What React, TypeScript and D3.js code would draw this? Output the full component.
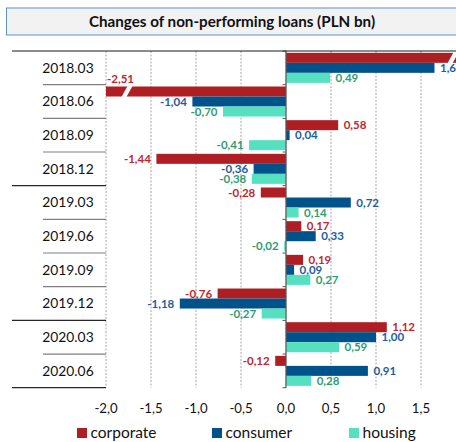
import React from 'react';
import * as d3 from 'd3';

const categories = ['2018.03', '2018.06', '2018.09', '2018.12', '2019.03', '2019.06', '2019.09', '2019.12', '2020.03', '2020.06'];
const corporate = [2.61, -2.51, 0.58, -1.44, -0.28, 0.17, 0.19, -0.76, 1.12, -0.12];
const consumer = [1.65, -1.04, 0.04, -0.36, 0.72, 0.33, 0.09, -1.18, 1.0, 0.91];
const housing = [0.49, -0.7, -0.41, -0.38, 0.14, -0.02, 0.27, -0.27, 0.59, 0.28];
const seriesNames = ['corporate', 'consumer', 'housing'];
const xTicks = [-2.0, -1.5, -1.0, -0.5, 0.0, 0.5, 1.0, 1.5];
const yearStartCategories = ['2018.03', '2019.03', '2020.03'];
const title = 'Changes of non-performing loans (PLN bn)';

const seriesValues = [corporate, consumer, housing];
const barColors = ['#AE1E23', '#00528A', '#55E0BF'];
const labelColors = ['#C1272D', '#1B5E9E', '#2E9E6F'];

const W = 456;
const H = 442;
const FONT = 'Lato, "Noto Sans", sans-serif';

const fmt = (v: number, d: number) => v.toFixed(d).replace('.', ',');

export default function App() {
  const domain: [number, number] = [-2, 2];
  const x = d3.scaleLinear().domain(domain).range([106, 466]).clamp(true);
  const y = d3.scaleBand<string>().domain(categories).range([51, 387.7]);
  const inner = d3
    .scaleBand<string>()
    .domain(seriesNames)
    .range([0, y.bandwidth()])
    .paddingInner(0)
    .paddingOuter(0.183);
  const x0 = x(0);
  const top = y.range()[0];
  const bottom = y.range()[1];
  const axisLeft = x(domain[0]);

  const bars: React.ReactNode[] = [];
  const labels: React.ReactNode[] = [];
  categories.forEach((cat, ci) => {
    seriesNames.forEach((s, si) => {
      const v = seriesValues[si][ci];
      const yb = (y(cat) as number) + (inner(s) as number);
      const h = inner.bandwidth();
      const xv = x(v);
      const left = Math.min(xv, x0);
      const width = Math.abs(xv - x0);
      bars.push(
        <rect key={`b-${ci}-${si}`} x={left} y={yb} width={width} height={h} fill={barColors[si]} />
      );
      const clipped = v < domain[0] || v > domain[1];
      if (clipped) {
        const cx = v < 0 ? x(domain[0]) + 21 : x(domain[1]) - 13;
        const pts = [
          [cx - 5.5, yb + h + 0.5],
          [cx - 0.5, yb + h + 0.5],
          [cx + 5.5, yb - 0.5],
          [cx + 0.5, yb - 0.5],
        ];
        bars.push(
          <polygon key={`br-${ci}-${si}`} points={pts.map((p) => p.join(',')).join(' ')} fill="#ffffff" />
        );
        if (v < 0) {
          labels.push(
            <text
              key={`l-${ci}-${si}`}
              x={x(domain[0]) + 1}
              y={yb - 8}
              dy="0.35em"
              textAnchor="start"
              fill={labelColors[si]}
              fontSize={11.5}
              fontWeight="bold"
            >
              {fmt(v, 2)}
            </text>
          );
        }
      } else {
        labels.push(
          <text
            key={`l-${ci}-${si}`}
            x={v >= 0 ? xv + 5.5 : xv - 5.5}
            y={yb + h / 2}
            dy="0.35em"
            textAnchor={v >= 0 ? 'start' : 'end'}
            fill={labelColors[si]}
            fontSize={11.5}
            fontWeight="bold"
          >
            {fmt(v, 2)}
          </text>
        );
      }
    });
  });

  const boundaries = categories.map((c) => y(c) as number).concat([bottom]);

  const legendX = [77, 212, 349];

  return (
    <svg
      width={W}
      height={H}
      style={{ position: 'absolute', left: 0, top: 0, fontFamily: FONT }}
    >
      <rect x={0} y={0} width={W} height={H} fill="#ffffff" />
      {/* title box */}
      <rect x={6.5} y={8} width={452} height={27} fill="#F2F2F2" stroke="#5F93BF" strokeWidth={1} />
      <text x={232} y={21.5} dy="0.36em" textAnchor="middle" fontSize={15.2} fontWeight="bold" fill="#111">
        {title}
      </text>

      {/* gridlines */}
      {xTicks.map((t) => (
        <line
          key={`g-${t}`}
          x1={x(t)}
          x2={x(t)}
          y1={top}
          y2={bottom}
          stroke="#A6A6A6"
          strokeWidth={1}
          strokeDasharray="2,1.5"
        />
      ))}

      {bars}

      {/* zero axis */}
      <line x1={x0} x2={x0} y1={top} y2={bottom} stroke="#595959" strokeWidth={1.2} />
      {boundaries.map((b, i) => (
        <line key={`t-${i}`} x1={x0 - 3.5} x2={x0} y1={b} y2={b} stroke="#595959" strokeWidth={1} />
      ))}

      {/* category separators */}
      <line x1={12} x2={W} y1={top} y2={top} stroke="#1a1a1a" strokeWidth={1.2} />
      {boundaries.slice(1).map((b, i) => {
        const cat = categories[i + 1];
        const isYear = cat === undefined || yearStartCategories.includes(cat);
        return (
          <line
            key={`s-${i}`}
            x1={isYear ? 12 : 43}
            x2={axisLeft}
            y1={b}
            y2={b}
            stroke={isYear ? '#262626' : '#808080'}
            strokeWidth={1.2}
          />
        );
      })}

      {labels}

      {/* category labels */}
      {categories.map((c) => (
        <text
          key={`c-${c}`}
          x={68}
          y={(y(c) as number) + y.bandwidth() / 2}
          dy="0.35em"
          textAnchor="middle"
          fontSize={13.8}
          fill="#111"
        >
          {c}
        </text>
      ))}

      {/* x tick labels */}
      {xTicks.map((t) => (
        <text key={`xl-${t}`} x={x(t)} y={408} dy="0.35em" textAnchor="middle" fontSize={13.2} fill="#111">
          {fmt(t, 1)}
        </text>
      ))}

      {/* legend */}
      {seriesNames.map((s, i) => (
        <g key={`lg-${s}`}>
          <rect x={legendX[i]} y={428} width={10} height={10} fill={barColors[i]} />
          <text x={legendX[i] + 13.5} y={433} dy="0.35em" fontSize={15.5} fill="#111">
            {s}
          </text>
        </g>
      ))}
    </svg>
  );
}
